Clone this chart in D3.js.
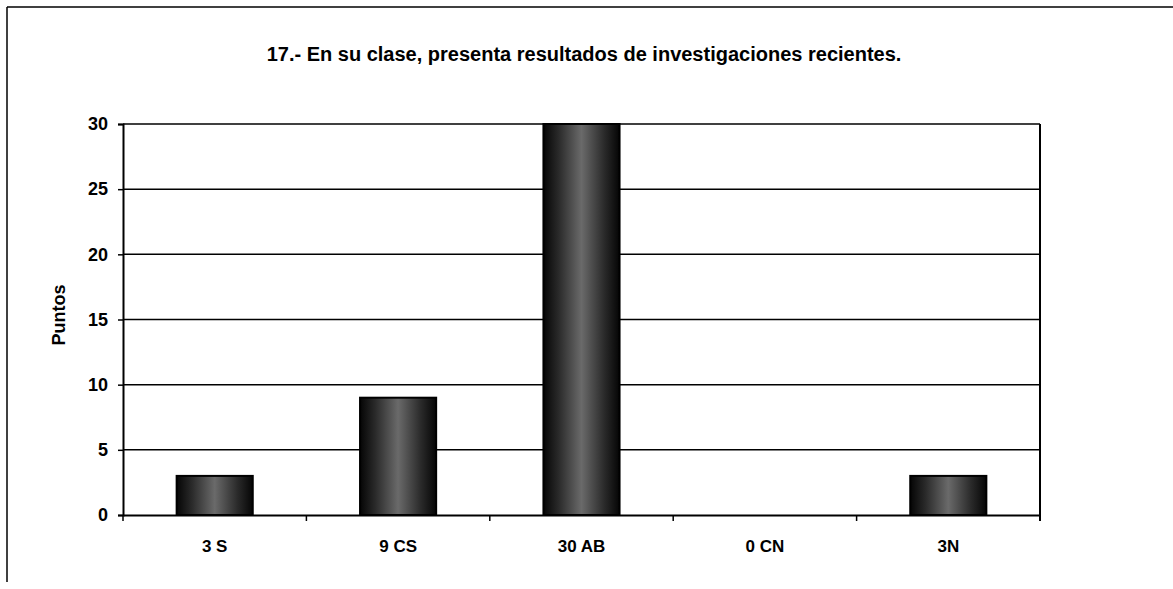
<!DOCTYPE html>
<html>
<head>
<meta charset="utf-8">
<script src="https://cdn.jsdelivr.net/npm/d3@7"></script>
<style>
  body { margin: 0; background: #fff; }
  text { font-family: "Liberation Sans", Arial, sans-serif; font-weight: bold; fill: #000; }
</style>
</head>
<body>
<script>
const w = 1173;
const h = 589;

const categories = ["3 S", "9 CS", "30 AB", "0 CN", "3N"];
const values = [3, 9, 30, 0, 3];
const yTicks = [0, 5, 10, 15, 20, 25, 30];
const title = "17.- En su clase, presenta resultados de investigaciones recientes.";
const yLabel = "Puntos";

const plotLeft = 123, plotRight = 1040, plotTop = 124, plotBottom = 515;

const svg = d3.select("body")
              .append("svg")
              .attr("width", w)
              .attr("height", h);

// scanned-looking bar fill
const grad = svg.append("defs").append("linearGradient")
    .attr("id", "barfill");
grad.append("stop").attr("offset", "0%").attr("stop-color", "#050505");
grad.append("stop").attr("offset", "20%").attr("stop-color", "#2a2a2a");
grad.append("stop").attr("offset", "50%").attr("stop-color", "#6a6a6a");
grad.append("stop").attr("offset", "80%").attr("stop-color", "#2a2a2a");
grad.append("stop").attr("offset", "100%").attr("stop-color", "#050505");

// page frame
svg.append("line").attr("x1", 7).attr("x2", w).attr("y1", 7).attr("y2", 7)
    .attr("stroke", "#000").attr("stroke-width", 1.5);
svg.append("line").attr("x1", 7).attr("x2", 7).attr("y1", 7).attr("y2", 582)
    .attr("stroke", "#000").attr("stroke-width", 1.5);

const xScale = d3.scaleBand()
                .domain(categories)
                .range([plotLeft, plotRight])
                .padding(0);

const yScale = d3.scaleLinear()
                .domain([0, 30])
                .range([plotBottom, plotTop]);

// gridlines
svg.selectAll(".grid")
    .data(yTicks.filter(d => d > 0))
    .enter()
    .append("line")
    .attr("x1", plotLeft).attr("x2", plotRight)
    .attr("y1", d => yScale(d)).attr("y2", d => yScale(d))
    .attr("stroke", "#000").attr("stroke-width", 1.5);

// right border of plot
svg.append("line")
    .attr("x1", plotRight).attr("x2", plotRight)
    .attr("y1", plotTop).attr("y2", plotBottom + 6)
    .attr("stroke", "#000").attr("stroke-width", 2);

// bars
const barW = xScale.bandwidth() * 0.415;
svg.selectAll(".bar")
    .data(values)
    .enter()
    .append("rect")
    .attr("x", (d, i) => xScale(categories[i]) + (xScale.bandwidth() - barW) / 2)
    .attr("width", barW)
    .attr("y", d => yScale(d))
    .attr("height", d => plotBottom - yScale(d))
    .attr("fill", "url(#barfill)")
    .attr("stroke", "#000")
    .attr("stroke-width", d => d > 0 ? 2 : 0);

// y axis
const yAxis = d3.axisLeft(yScale)
    .tickValues(yTicks)
    .tickSize(5)
    .tickPadding(10);

const gy = svg.append("g")
    .attr("transform", "translate(" + plotLeft + ",0)")
    .call(yAxis);
gy.select(".domain").attr("stroke-width", 2);
gy.selectAll(".tick line").attr("stroke-width", 1.5);
gy.selectAll("text").style("font-size", "18px");

// x axis
const xAxis = d3.axisBottom(xScale)
    .tickSize(0)
    .tickPadding(25);

const gx = svg.append("g")
    .attr("transform", "translate(0," + plotBottom + ")")
    .call(xAxis);
gx.select(".domain").attr("stroke-width", 2);
gx.selectAll("text").style("font-size", "17px");

// boundary ticks between categories
svg.selectAll(".xtick")
    .data(d3.range(categories.length + 1))
    .enter()
    .append("line")
    .attr("x1", i => plotLeft + i * xScale.step())
    .attr("x2", i => plotLeft + i * xScale.step())
    .attr("y1", plotBottom).attr("y2", plotBottom + 6)
    .attr("stroke", "#000").attr("stroke-width", 1.5);

// title
svg.append("text")
    .attr("x", 584)
    .attr("y", 61)
    .attr("text-anchor", "middle")
    .style("font-size", "20px")
    .text(title);

// y label
svg.append("text")
    .attr("transform", "translate(65,315) rotate(-90)")
    .attr("text-anchor", "middle")
    .style("font-size", "18px")
    .text(yLabel);
</script>
</body>
</html>
